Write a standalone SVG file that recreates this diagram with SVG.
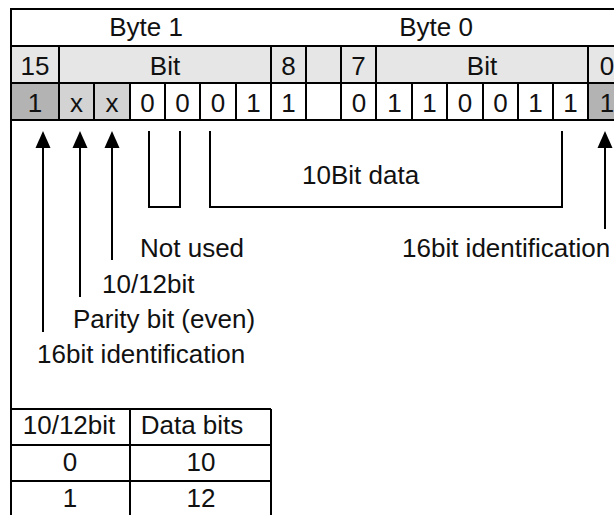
<svg xmlns="http://www.w3.org/2000/svg" width="614" height="515" viewBox="0 0 614 515">
<style>
text{font-family:"Liberation Sans",Arial,sans-serif;font-size:26px;fill:#111;}
.c{text-anchor:middle;}
.g{stroke:#000;stroke-width:2;fill:none;}
.a{stroke:#000;stroke-width:2;fill:none;marker-end:url(#ah);}
</style>
<defs>
<marker id="ah" markerUnits="userSpaceOnUse" markerWidth="17" markerHeight="16" refX="15" refY="8" orient="auto">
<path d="M0,0.5 L17,8 L0,15.5 z" fill="#000"/>
</marker>
</defs>
<rect width="614" height="515" fill="#fff"/>
<g id="register">
<rect x="11" y="46" width="620" height="37" fill="#e6e6e6"/>
<rect x="11" y="83" width="48" height="37" fill="#b3b3b3"/>
<rect x="59" y="83" width="71" height="37" fill="#d3d3d3"/>
<rect x="588" y="83" width="40" height="37" fill="#b3b3b3"/>
<path class="g" d="M11,9H630M11,46H630M11,83H630M11,120H630M11,8V515"/>
<path class="g" d="M59,46V120M271,46V120M306,46V120M341,46V120M376,46V120M588,46V120"/>
<path class="g" d="M94,83V120M130,83V120M165,83V120M200,83V120M236,83V120M412,83V120M447,83V120M483,83V120M518,83V120M553,83V120"/>
<text class="c" x="146" y="36">Byte 1</text>
<text class="c" x="436" y="36">Byte 0</text>
<text class="c" x="35" y="75">15</text>
<text class="c" x="165" y="75">Bit</text>
<text class="c" x="288.5" y="75">8</text>
<text class="c" x="358.5" y="75">7</text>
<text class="c" x="482" y="75">Bit</text>
<text class="c" x="607" y="75">0</text>
<text class="c" x="35" y="112">1</text>
<text class="c" x="76.5" y="112">x</text>
<text class="c" x="112" y="112">x</text>
<text class="c" x="147.5" y="112">0</text>
<text class="c" x="182.5" y="112">0</text>
<text class="c" x="218" y="112">0</text>
<text class="c" x="253.5" y="112">1</text>
<text class="c" x="288.5" y="112">1</text>
<text class="c" x="359" y="112">0</text>
<text class="c" x="394.5" y="112">1</text>
<text class="c" x="429.5" y="112">1</text>
<text class="c" x="465" y="112">0</text>
<text class="c" x="500.5" y="112">0</text>
<text class="c" x="535.5" y="112">1</text>
<text class="c" x="570.5" y="112">1</text>
<text class="c" x="607" y="112">1</text>
</g>
<g id="connectors">
<path class="g" d="M149,131V207H180V131"/>
<path class="g" d="M210,131V207H562V131"/>
<path class="a" d="M43,332V133"/>
<path class="a" d="M80,297V133"/>
<path class="a" d="M112,260V133"/>
<path class="a" d="M605,229V133"/>
</g>
<g id="labels">
<text x="302" y="184">10Bit data</text>
<text x="140" y="257">Not used</text>
<text x="102" y="293">10/12bit</text>
<text x="73" y="328">Parity bit (even)</text>
<text x="37" y="363">16bit identification</text>
<text x="402" y="257">16bit identification</text>
</g>
<g id="legend">
<path class="g" d="M11,409H271M11,445H271M11,481H271M130,409V515M271,409V515"/>
<text class="c" x="69" y="434">10/12bit</text>
<text class="c" x="192" y="434">Data bits</text>
<text class="c" x="70" y="471">0</text>
<text class="c" x="201" y="471">10</text>
<text class="c" x="70" y="507">1</text>
<text class="c" x="201" y="507">12</text>
</g>
</svg>
